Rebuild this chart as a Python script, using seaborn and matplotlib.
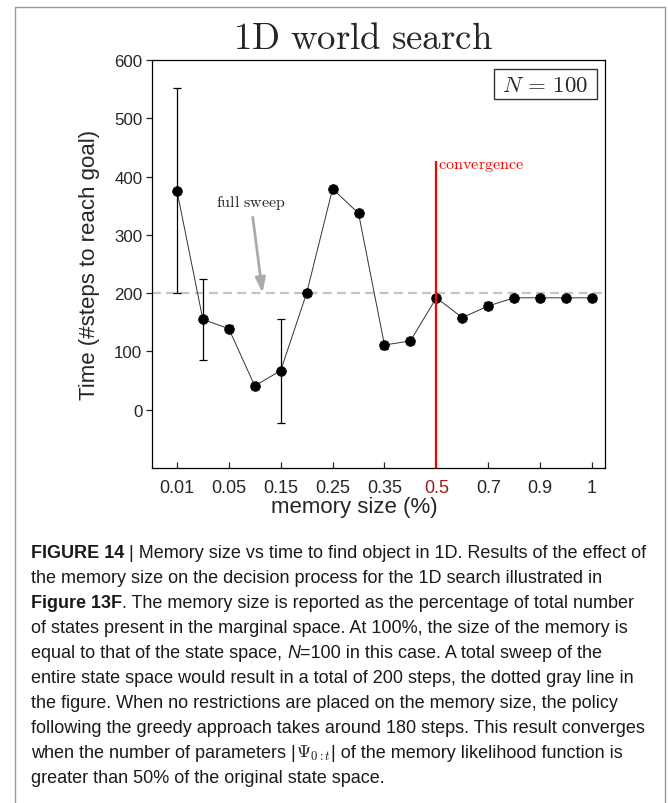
import numpy as np
import pandas as pd
import matplotlib
matplotlib.use("Agg")
import matplotlib.pyplot as plt
import seaborn as sns
from matplotlib.lines import Line2D
from matplotlib.patches import Rectangle

# ---------------- data ----------------
memory_sizes = ['0.01', '0.03', '0.05', '0.1', '0.15', '0.2', '0.25', '0.3', '0.35',
                '0.4', '0.5', '0.6', '0.7', '0.8', '0.9', '0.95', '1']
time_steps = [376, 155, 139, 41, 67, 200, 379, 337, 111, 118, 192, 158, 178, 192, 192, 192, 192]
time_err = [176, 69, 6, 5, 89, 5, 5, 5, 6, 5, 5, 4, 6, 5, 5, 5, 5]
tick_labels = memory_sizes[::2]
y_ticks = [0, 100, 200, 300, 400, 500, 600]
full_sweep = 200
convergence_at = '0.5'
convergence_top = 427

caption_lines = [
    [("FIGURE 14", "bold"), (" | Memory size vs time to find object in 1D. Results of the effect of", "normal")],
    [("the memory size on the decision process for the 1D search illustrated in", "normal")],
    [("Figure 13F", "bold"), (". The memory size is reported as the percentage of total number", "normal")],
    [("of states present in the marginal space. At 100%, the size of the memory is", "normal")],
    [("equal to that of the state space, ", "normal"), ("N", "italic"), ("=100 in this case. A total sweep of the", "normal")],
    [("entire state space would result in a total of 200 steps, the dotted gray line in", "normal")],
    [("the figure. When no restrictions are placed on the memory size, the policy", "normal")],
    [("following the greedy approach takes around 180 steps. This result converges", "normal")],
    [("when the number of parameters |", "normal"), (r"$\Psi_{0:t}$", "math"), ("| of the memory likelihood function is", "normal")],
    [("greater than 50% of the original state space.", "normal")],
]

# ---------------- style ----------------
sns.set_style("ticks")
plt.rcParams['font.family'] = ['Liberation Sans', 'DejaVu Sans']

W, H = 668, 804
fig = plt.figure(figsize=(W / 100, H / 100), dpi=100)
fig.patch.set_facecolor('white')
ax_l, ax_r, ax_t, ax_b = 152, 605, 61, 469
ax = fig.add_axes([ax_l / W, 1 - ax_b / H, (ax_r - ax_l) / W, (ax_b - ax_t) / H])

df = pd.DataFrame({'memory': memory_sizes, 'time': time_steps, 'err': time_err})

# reference line for full sweep
ax.axhline(full_sweep, color='#c4c4c4', lw=1.6, dashes=(4, 2.4), zorder=1)

# error bars
xpos = np.arange(len(memory_sizes))
ax.errorbar(xpos, df['time'], yerr=df['err'], fmt='none', ecolor='black',
            elinewidth=0.9, capsize=3, capthick=0.9, zorder=2)

sns.pointplot(data=df, x='memory', y='time', order=memory_sizes, color='black',
              markers='o', markersize=7, linewidth=0.7, errorbar=None, ax=ax)
for ln in ax.lines:
    if ln.get_marker() == 'o':
        ln.set_color('#333333')
        ln.set_markerfacecolor('black')
        ln.set_markeredgecolor('black')
        ln.set_zorder(3)

# convergence line
cx = memory_sizes.index(convergence_at)
ax.vlines(cx, -100, convergence_top, color='#ff0000', lw=1.6, zorder=4)
ax.text(cx + 0.08, 414, r'$\mathrm{convergence}$', color='#ff0000', fontsize=11.7,
        math_fontfamily='cm', ha='left', va='baseline', zorder=5)

# full sweep annotation
ax.annotate(r'$\mathrm{full\ sweep}$', xy=(3.3, full_sweep), xytext=(2.85, 356),
            fontsize=11.5, math_fontfamily='cm', ha='center', va='center', color='#222222',
            arrowprops=dict(arrowstyle='-|>,head_length=0.9,head_width=0.3', color='#aaaaaa',
                            lw=2, shrinkA=2, shrinkB=0, mutation_scale=10))

# N = 100 box
box_x0, box_x1 = (494 - ax_l) / (ax_r - ax_l), (597 - ax_l) / (ax_r - ax_l)
box_y0, box_y1 = (ax_b - 100) / (ax_b - ax_t), (ax_b - 70) / (ax_b - ax_t)
ax.add_patch(Rectangle((box_x0, box_y0), box_x1 - box_x0, box_y1 - box_y0,
                       transform=ax.transAxes, fc='white', ec='#333333', lw=1, zorder=6))
ax.text((box_x0 + box_x1) / 2, (box_y0 + box_y1) / 2, r'$N\,=\,100$', transform=ax.transAxes,
        fontsize=16.5, math_fontfamily='cm', ha='center', va='center', zorder=7)

# axes limits and ticks
ax.set_xlim(-0.96, len(memory_sizes) - 0.5)
ax.set_ylim(-100, 600)
ax.set_yticks(y_ticks)
ax.set_yticklabels([str(v) for v in y_ticks])
tick_pos = [memory_sizes.index(t) for t in tick_labels]
ax.set_xticks(tick_pos)
ax.set_xticklabels(tick_labels)
for lab in ax.get_xticklabels():
    if lab.get_text() == convergence_at:
        lab.set_color('#9b1c1c')
ax.tick_params(axis='x', direction='in', length=4.5, width=0.9, labelsize=13, pad=8)
ax.tick_params(axis='y', direction='out', length=4, width=0.9, labelsize=12.2, pad=3)
for s in ax.spines.values():
    s.set_visible(True)
    s.set_linewidth(0.9)
    s.set_color('black')

ax.set_xlabel('memory size (%)', fontsize=16)
ax.set_ylabel('Time (#steps to reach goal)', fontsize=16)
ax.xaxis.set_label_coords(0.446, -0.068)
ax.yaxis.set_label_coords(-0.115, 0.5)

fig.text(363 / W, 1 - 49 / H, r'$\mathrm{1D\ world\ search}$', fontsize=26.5,
         math_fontfamily='cm', ha='center', va='baseline')

# outer frame
fc = '#9a9a9a'
fig.add_artist(Line2D([15 / W, 15 / W], [0, 1 - 8 / H], transform=fig.transFigure, color=fc, lw=1))
fig.add_artist(Line2D([15 / W, 665 / W], [1 - 8 / H, 1 - 8 / H], transform=fig.transFigure, color=fc, lw=1))
fig.add_artist(Line2D([665 / W, 665 / W], [0, 1 - 8 / H], transform=fig.transFigure, color=fc, lw=1))

# caption
fig.canvas.draw()
renderer = fig.canvas.get_renderer()
cap_family = ['Liberation Sans Narrow', 'Liberation Sans']
cap_fs = 12.0


def width_of(txt, **kw):
    t = fig.text(0, 0, txt, fontsize=cap_fs, family=cap_family, **kw)
    w = t.get_window_extent(renderer).width
    t.remove()
    return w


space_w = width_of('x x') - width_of('xx')

# scale caption to fit the first line's width
target = 651 - 31
line0 = caption_lines[0]
w0 = sum(width_of(s.strip(), weight=('bold' if st == 'bold' else 'normal')) for s, st in line0) + 2 * space_w
cap_fs = cap_fs * target / w0
space_w = width_of('x x') - width_of('xx')

x0 = 31
base0 = 558
for i, segs in enumerate(caption_lines):
    x = x0
    y = 1 - (base0 + 25 * i) / H
    for txt, style in segs:
        lead = len(txt) - len(txt.lstrip(' '))
        trail = len(txt) - len(txt.rstrip(' '))
        x += lead * space_w
        core = txt.strip(' ')
        kw = dict(fontsize=cap_fs, family=cap_family, color='#1a1a1a', va='baseline', ha='left')
        if style == 'bold':
            kw['weight'] = 'bold'
        elif style == 'italic':
            kw['style'] = 'italic'
        elif style == 'math':
            kw['math_fontfamily'] = 'cm'
        t = fig.text(x / W, y, core, **kw)
        x += t.get_window_extent(renderer).width + trail * space_w

fig.savefig('out.png', dpi=100)
